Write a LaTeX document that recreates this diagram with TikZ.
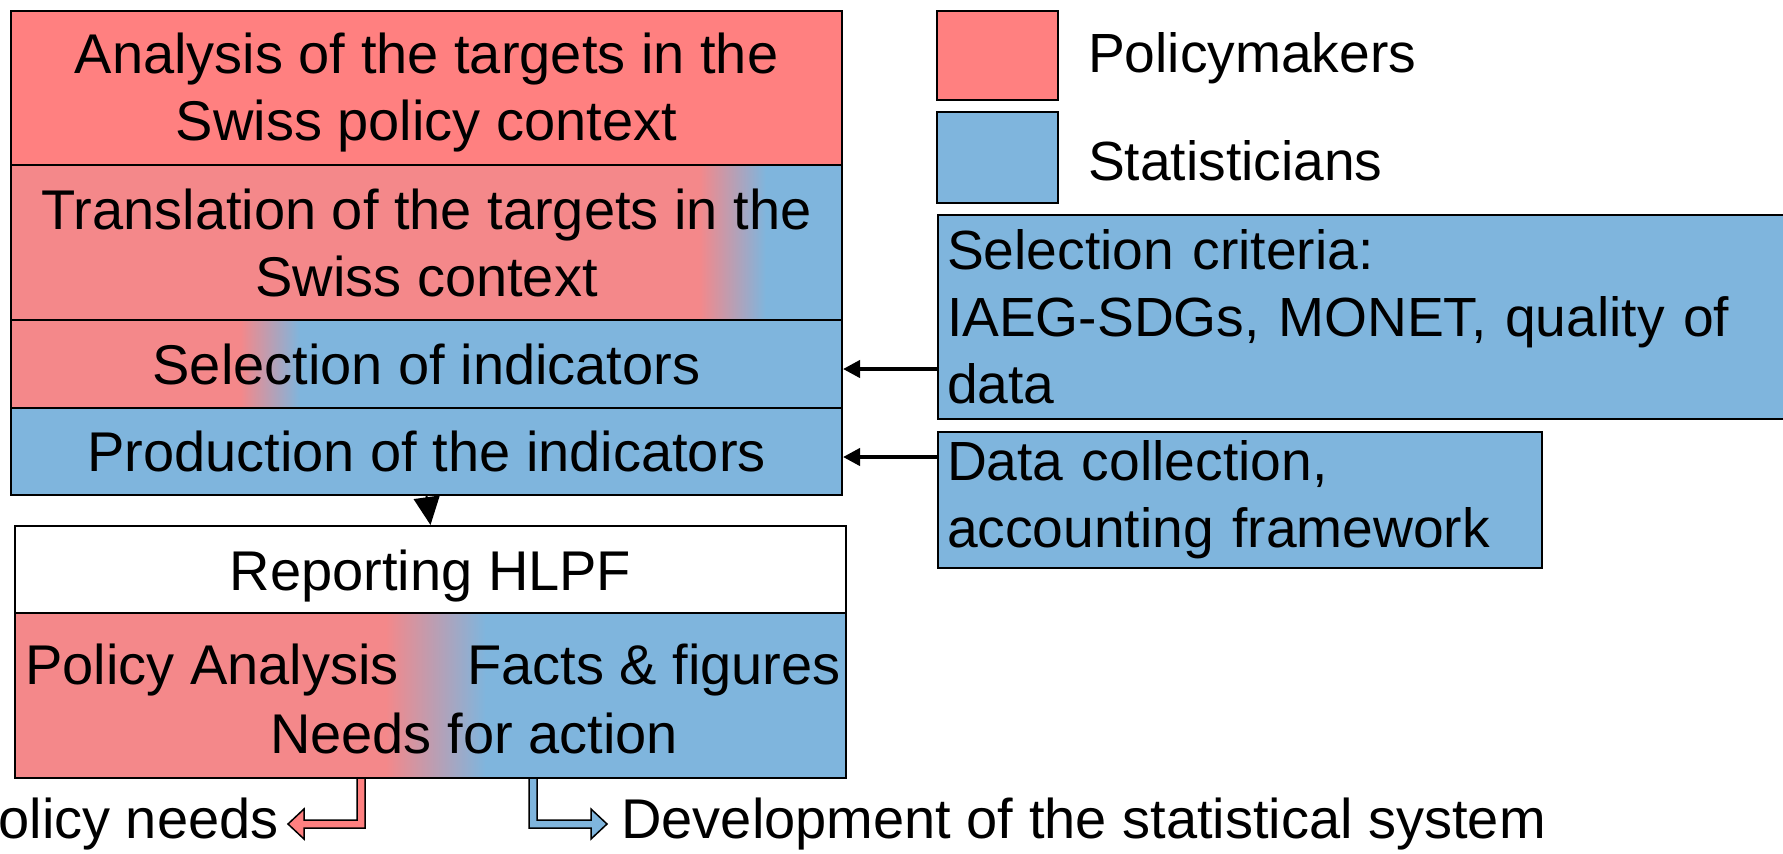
\documentclass[tikz,border=0pt]{standalone}
\usepackage{fontspec}
\setmainfont{Liberation Sans}
\usetikzlibrary{positioning,arrows.meta}

\definecolor{polred}{RGB}{255,128,128}
\definecolor{polpink}{RGB}{244,136,138}
\definecolor{statblue}{RGB}{127,181,221}

% path box spans 25bp..75bp of the shading
\pgfdeclarehorizontalshading{transshade}{100bp}{color(0bp)=(polpink); color(66.4bp)=(polpink); color(70.4bp)=(statblue); color(100bp)=(statblue)}
\pgfdeclarehorizontalshading{selshade}{100bp}{color(0bp)=(polpink); color(38.8bp)=(polpink); color(42.4bp)=(statblue); color(100bp)=(statblue)}
\pgfdeclarehorizontalshading{repshade}{100bp}{color(0bp)=(polpink); color(47.3bp)=(polpink); color(53.3bp)=(statblue); color(100bp)=(statblue)}

\newcommand\bigtxt{\fontsize{28}{33.5}\selectfont}
\newcommand\midtxt{\fontsize{28}{33.5}\selectfont}
\newcommand\smalltxt{\fontsize{27.6}{33.5}\selectfont}

\tikzset{
  stage/.style={draw, line width=1pt, inner sep=0pt, minimum width=415.5pt, align=center, font=\bigtxt},
  side/.style={draw, line width=1pt, fill=statblue, inner sep=4.5pt, align=left, font=\smalltxt},
  legbox/.style={draw, line width=1pt, minimum width=60.5pt},
  feed/.style={line width=2pt, -{Triangle[length=8.5pt,width=8.5pt]}},
  block/.style={draw=black, line width=0.75pt},
}

\begin{document}
\begin{tikzpicture}[x=0.5pt,y=-0.5pt]
\useasboundingbox (0,0) rectangle (1783,853);
\clip (0,0) rectangle (1783,853);

% process column
\node[stage, fill=polred, minimum height=77pt] (ana) at (426.5,88) {\rule{0pt}{25pt}Analysis of the targets in the\\Swiss policy context};
\node[stage, shading=transshade, minimum height=77.5pt] (trans) at (426.5,242.5) {Translation of the targets in the\\Swiss context};
\node[stage, shading=selshade, minimum height=44pt] (sel) at (426.5,364) {Selection of indicators};
\node[stage, fill=statblue, minimum height=43.5pt] (prod) at (426.5,451.5) {Production of the indicators};

% reporting
\node[stage, fill=white, minimum height=43.5pt, text height=27pt, text depth=6pt] (rep) at (430.5,569.5) {Reporting HLPF};
\node[stage, shading=repshade, minimum height=82.5pt] (low) at (430.5,695.5) {};
\node[font=\bigtxt, inner sep=0pt, anchor=base west] (polan) at (25,684) {Policy Analysis};
\node[font=\bigtxt, inner sep=0pt, anchor=base east] (facts) at (841,684) {Facts \& figures};
\node[font=\bigtxt, inner sep=0pt, anchor=base] (needs) at (474,753) {Needs for action};

\draw[line width=1pt, -{Triangle[length=14pt,width=13pt]}] (prod.south) -- (rep.north);

% legend
\node[legbox, fill=polred, minimum height=44.5pt] (legpol) at (997.5,55.5) {};
\node[legbox, fill=statblue, minimum height=45.5pt] (legstat) at (997.5,157.5) {};
\node[font=\smalltxt, right=11pt of legpol, yshift=-1.5pt] (legpoltxt) {Policymakers};
\node[font=\smalltxt, right=11pt of legstat, yshift=-1.5pt] (legstattxt) {Statisticians};

% inputs
\node[side, minimum width=431pt, minimum height=102pt, text width=422pt] (crit) at (1369,317) {Selection criteria:\\IAEG-SDGs, MONET, quality of\\data};
\node[side, minimum width=302pt, minimum height=68pt, text width=293pt] (coll) at (1240,500) {Data collection,\\accounting framework};

\path ([yshift=-2.5pt]sel.east) coordinate (selin);
\path ([yshift=-2.75pt]prod.east) coordinate (prodin);
\draw[feed] (crit.west |- selin) -- (selin);
\draw[feed] (coll.west |- prodin) -- (prodin);

% outputs
\node[font=\midtxt, inner sep=0pt, anchor=base east] (polneeds) at (279,838) {Policy needs};
\node[font=\midtxt, inner sep=0pt, anchor=base west] (devstat) at (621,838) {Development of the statistical system};
\coordinate (redstem) at (361,778);
\coordinate (bluestem) at (533,778);
\filldraw[block, fill=polred] (redstem) ++(-4,0) -- ++(8,0) -- ++(0,50) -- ++(-61,0) -- ++(0,11) -- ++(-16,-15) -- ++(16,-15) -- ++(0,11) -- ++(53,0) -- cycle;
\filldraw[block, fill=statblue] (bluestem) ++(-4,0) -- ++(8,0) -- ++(0,42) -- ++(54,0) -- ++(0,-11) -- ++(16,15) -- ++(-16,15) -- ++(0,-11) -- ++(-62,0) -- cycle;
\end{tikzpicture}
\end{document}
